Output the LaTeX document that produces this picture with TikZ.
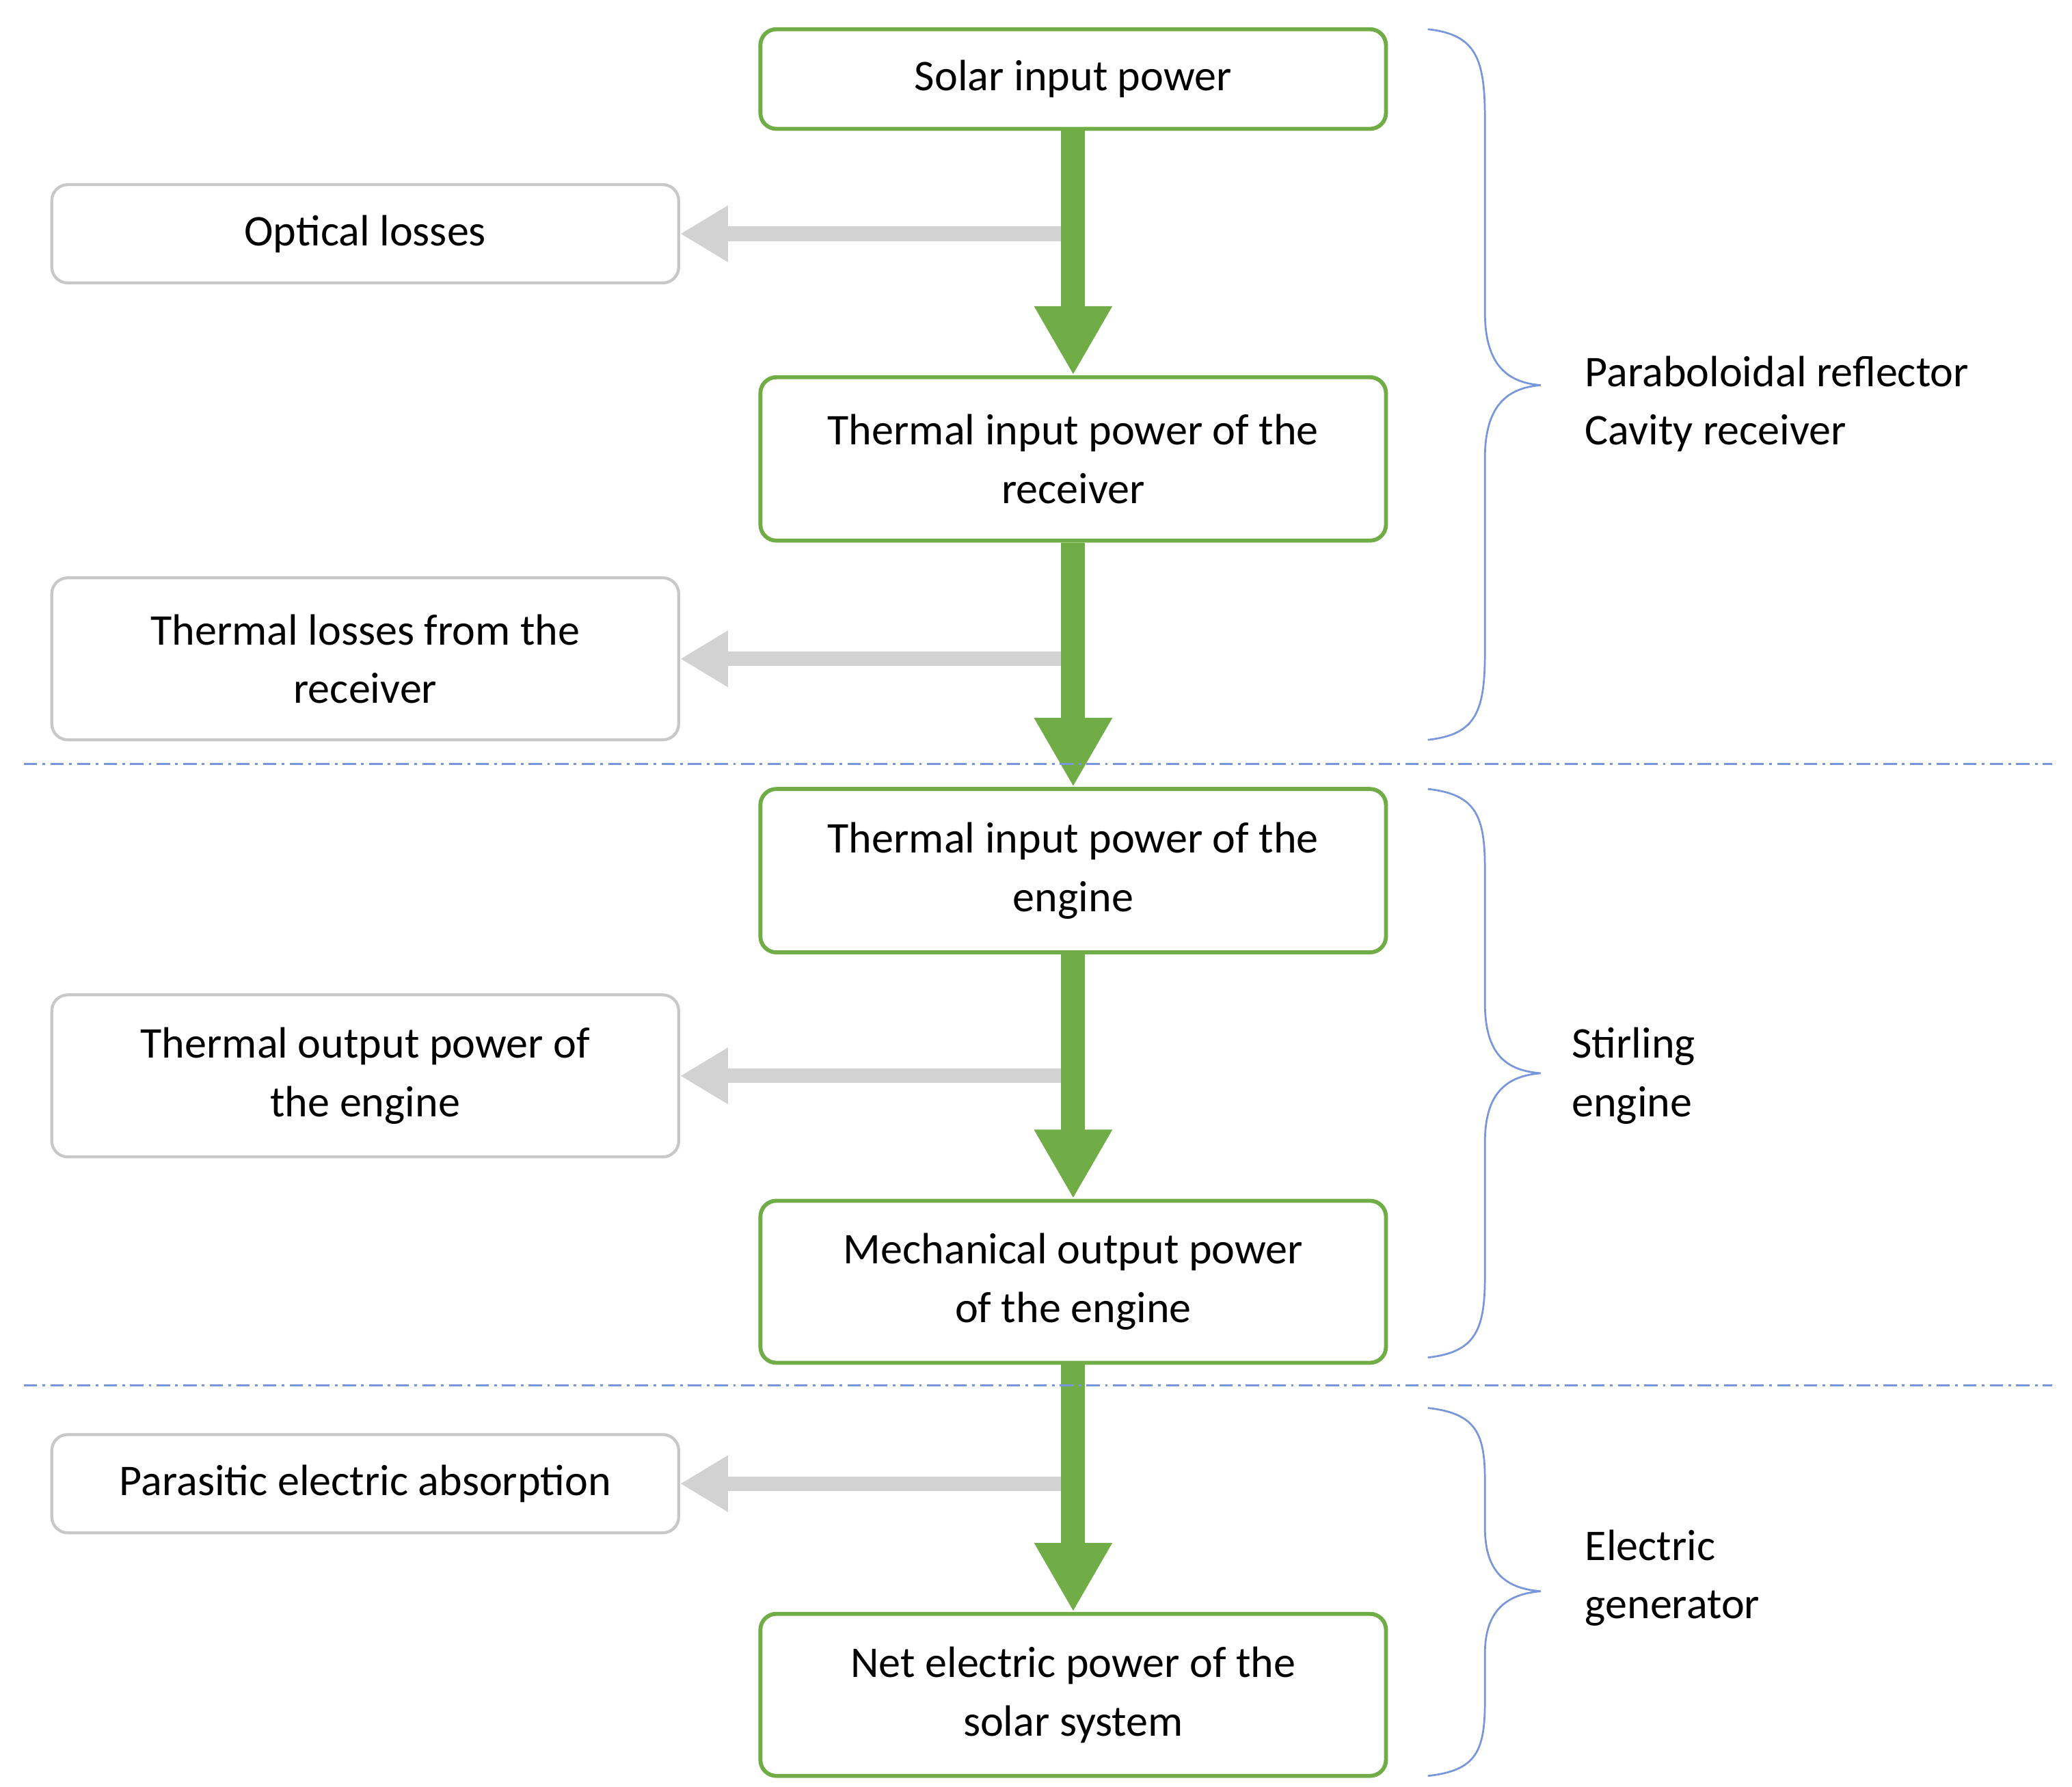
\documentclass[tikz,border=0pt]{standalone}
\usepackage{fontspec}
\setmainfont{Carlito}
\usetikzlibrary{arrows.meta}
\definecolor{grn}{RGB}{112,173,71}
\definecolor{gbd}{RGB}{200,200,200}
\definecolor{gar}{RGB}{210,210,210}
\definecolor{blu}{RGB}{120,150,220}
\begin{document}
\begin{tikzpicture}[x=0.5pt,y=-0.5pt,
  font=\fontsize{16.5}{22}\selectfont,
  gbox/.style={draw=grn,line width=1.5pt,rounded corners=6pt,minimum width=235.5pt,align=center,inner sep=0pt,fill=white},
  lbox/.style={draw=gbd,line width=1.1pt,rounded corners=6pt,minimum width=236pt,align=center,inner sep=0pt,fill=white},
  garrow/.style={draw=grn,line width=9pt,-{Triangle[width=27.5pt,length=26pt]}},
  larrow/.style={draw=gar,line width=5.5pt,-{Triangle[width=20pt,length=18pt]}},
  brace/.style={draw=blu,line width=0.7pt},
  dline/.style={draw=blu,line width=0.8pt,dash pattern=on 5pt off 2pt on 1pt off 2pt}]
\useasboundingbox (0,0) rectangle (1560,1345);
\node[gbox,minimum height=37.5pt] (b1) at (808,59.5) {Solar input power};
\node[gbox,minimum height=61.5pt] (b2) at (808,345.5) {Thermal input power of the\\receiver};
\node[gbox,minimum height=61.5pt] (b3) at (808,655.5) {Thermal input power of the\\engine};
\node[gbox,minimum height=61pt] (b4) at (808,965) {Mechanical output power\\of the engine};
\node[gbox,minimum height=61pt] (b5) at (808,1276) {Net electric power of the\\solar system};
\node[lbox,minimum height=37pt] (l1) at (275,176) {Optical losses};
\node[lbox,minimum height=61pt] (l2) at (275,496) {Thermal losses from the\\receiver};
\node[lbox,minimum height=61pt] (l3) at (275,810) {Thermal output power of\\the engine};
\node[lbox,minimum height=37pt] (l4) at (275,1117) {Parasitic electric absorption};
\coordinate (c1) at (805,176);
\coordinate (c2) at (805,496);
\coordinate (c3) at (805,810);
\coordinate (c4) at (805,1117);
\begin{scope}[on background layer/.style={}]
\draw[larrow] (c1) -- (l1.east);
\draw[larrow] (c2) -- (l2.east);
\draw[larrow] (c3) -- (l3.east);
\draw[larrow] (c4) -- (l4.east);
\end{scope}
\draw[garrow] (b1.south) -- (b2.north);
\draw[garrow] (b2.south) -- (b3.north);
\draw[garrow] (b3.south) -- (b4.north);
\draw[garrow] (b4.south) -- (b5.north);
\draw[dline] (18,575) -- (1545,575);
\draw[dline] (18,1043) -- (1545,1043);
% braces
\draw[brace] (1075,22) .. controls (1112,26) and (1118,45) .. (1118,90) -- (1118,235) .. controls (1118,275) and (1135,288) .. (1160,290)
  .. controls (1135,292) and (1118,305) .. (1118,345) -- (1118,490) .. controls (1118,535) and (1112,553) .. (1075,557);
\draw[brace] (1075,594) .. controls (1112,598) and (1118,615) .. (1118,655) -- (1118,755) .. controls (1118,795) and (1135,806) .. (1160,808)
  .. controls (1135,810) and (1118,822) .. (1118,860) -- (1118,960) .. controls (1118,1000) and (1112,1018) .. (1075,1022);
\draw[brace] (1075,1060) .. controls (1112,1064) and (1118,1080) .. (1118,1115) -- (1118,1150) .. controls (1118,1185) and (1135,1196) .. (1160,1198)
  .. controls (1135,1200) and (1118,1212) .. (1118,1245) -- (1118,1280) .. controls (1118,1318) and (1112,1333) .. (1075,1337);
\node[anchor=west,align=left,inner sep=0pt] (t1) at (1193,304) {Paraboloidal reflector\\Cavity receiver};
\node[anchor=west,align=left,inner sep=0pt] (t2) at (1183,810) {Stirling\\engine};
\node[anchor=west,align=left,inner sep=0pt] (t3) at (1193,1188) {Electric\\generator};
\end{tikzpicture}
\end{document}
